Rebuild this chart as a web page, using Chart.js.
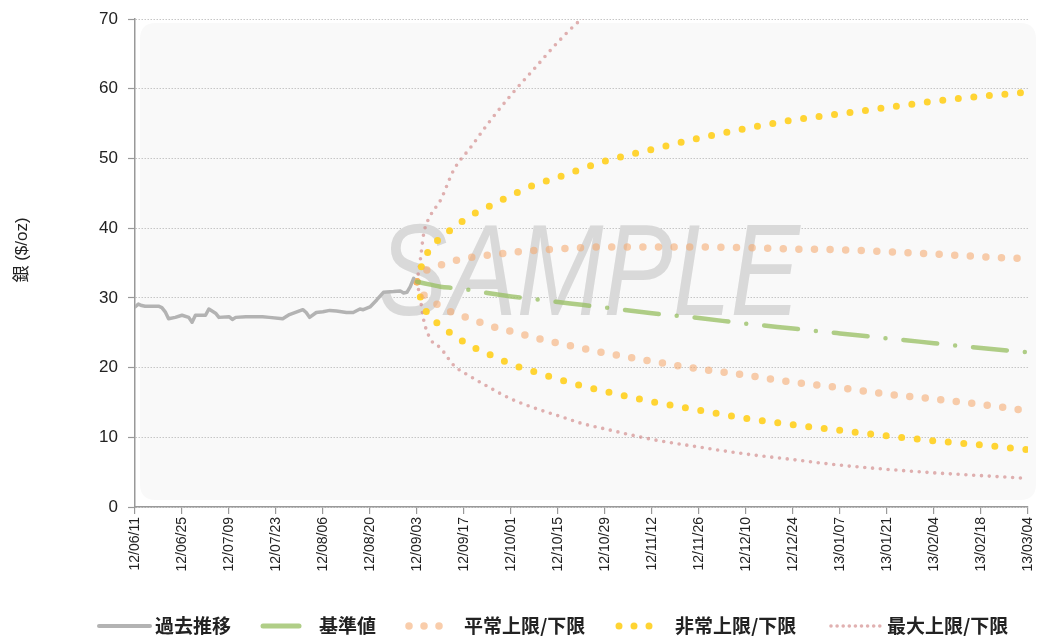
<!DOCTYPE html>
<html>
<head>
<meta charset="utf-8">
<script src="https://cdn.jsdelivr.net/npm/chart.js@4/dist/chart.umd.min.js"></script>
<style>
html,body{margin:0;padding:0;background:#ffffff;}
#wrap{width:1038px;height:636px;position:relative;}
</style>
</head>
<body>
<div id="wrap"><canvas id="c"></canvas></div>
<script>
// ---- tick labels (every 14 days from 12/06/11) ----
const tickLabels = ['12/06/11','12/06/25','12/07/09','12/07/23','12/08/06','12/08/20','12/09/03','12/09/17','12/10/01','12/10/15','12/10/29','12/11/12','12/11/26','12/12/10','12/12/24','13/01/07','13/01/21','13/02/04','13/02/18','13/03/04'];

// ---- history (day offset from 12/06/11, price) ----
const histDays   = [0,1,2,3,7,8,9,10,12,14,16,17,18,21,22,24,25,28,29,30,33,38,40,44,46,50,51,52,54,56,58,60,63,65,67,68,70,72,74,77,79,80,81,82,83];
const histValues = [28.7,29.1,28.9,28.8,28.8,28.6,28.0,27.0,27.2,27.5,27.2,26.5,27.5,27.5,28.4,27.8,27.2,27.3,26.9,27.2,27.3,27.3,27.2,27.0,27.6,28.3,27.9,27.2,27.9,28.0,28.2,28.1,27.9,27.9,28.4,28.3,28.7,29.7,30.8,30.9,31.0,30.7,30.8,31.6,32.8];

// ---- forecast (day offsets) ----
const fcDays        = [84,85,86,88,91,95,100,105,112,119,126,133,140,154,168,182,196,210,224,238,252,266];
const baseValues    = [32.3,32.2,32.1,31.9,31.6,31.4,31.1,30.7,30.2,29.8,29.4,29.0,28.6,27.8,27.1,26.3,25.6,24.9,24.2,23.5,22.8,22.2];
const normalUpper   = [32.3,33.1,33.7,34.2,34.7,35.3,35.8,36.1,36.5,36.8,37.0,37.2,37.3,37.3,37.3,37.2,37.0,36.9,36.6,36.3,35.9,35.6];
const normalLower   = [32.3,30.9,30.4,29.7,28.8,27.8,27.0,26.1,25.2,24.3,23.5,22.8,22.1,20.9,19.8,18.9,17.9,17.1,16.2,15.5,14.7,13.8];
const abnormalUpper = [32.3,34.0,35.4,37.1,38.6,40.1,41.8,43.0,44.7,46.2,47.3,48.5,49.6,51.3,52.9,54.3,55.5,56.4,57.3,58.2,58.9,59.5];
const abnormalLower = [32.3,30.1,28.7,27.3,26.0,24.6,23.1,22.0,20.5,19.4,18.35,17.4,16.6,15.1,13.9,12.7,11.8,11.0,10.2,9.5,8.9,8.2];
const maxUpper      = [32.3,35.5,39.2,41.8,44.0,48.4,51.6,54.9,59.1,62.9,66.7,70.0,72.6,null,null,null,null,null,null,null,null,null];
const maxLower      = [32.3,29.8,26.8,24.1,22.8,20.3,18.7,17.3,15.5,14.2,13.1,12.0,11.2,9.7,8.6,7.6,6.8,6.0,5.4,4.9,4.5,4.1];

const seriesNames = ['過去推移','基準値','平常上限/下限','非常上限/下限','最大上限/下限'];
const yTitle = '銀 ($/oz)';
const watermarkText = 'SAMPLE';

// ---- styles ----
const C_HIST = '#b3b3b3';
const C_BASE = 'rgba(150,190,95,0.75)';
const C_NORM = 'rgba(245,168,110,0.58)';
const C_ABN  = 'rgba(255,210,40,0.95)';
const C_MAX  = 'rgba(205,125,125,0.6)';

function pts(days, vals){ return days.map((d,i)=>({x:d, y:vals[i]})); }

const dotted = (color, w, gap) => ({borderColor:color, borderWidth:w, borderDash:[0,gap], borderCapStyle:'round', pointRadius:0, cubicInterpolationMode:'monotone', fill:false});

const datasets = [
  {label:seriesNames[0], data:pts(histDays,histValues), borderColor:C_HIST, borderWidth:3.5, pointRadius:0, tension:0, borderJoinStyle:'round', borderCapStyle:'round'},
  {label:seriesNames[1], data:pts(fcDays,baseValues), borderColor:C_BASE, borderWidth:4.5, borderDash:[34,18,0,18], borderCapStyle:'round', pointRadius:0, cubicInterpolationMode:'monotone'},
  Object.assign({label:seriesNames[2], data:pts(fcDays,normalUpper)}, dotted(C_NORM,7.5,15.6)),
  Object.assign({label:seriesNames[2]+'_', data:pts(fcDays,normalLower)}, dotted(C_NORM,7.5,15.6)),
  Object.assign({label:seriesNames[3], data:pts(fcDays,abnormalUpper)}, dotted(C_ABN,7,15.6)),
  Object.assign({label:seriesNames[3]+'_', data:pts(fcDays,abnormalLower)}, dotted(C_ABN,7,15.6)),
  Object.assign({label:seriesNames[4], data:pts(fcDays,maxUpper)}, dotted(C_MAX,3.6,7.8)),
  Object.assign({label:seriesNames[4]+'_', data:pts(fcDays,maxLower)}, dotted(C_MAX,3.6,7.8)),
];

// legend layout (sample start/end, text start)
const legendItems = [
  {sx:99,  ex:150, tx:155, dash:[],      w:4,   color:C_HIST},
  {sx:263, ex:299, tx:319, dash:[],      w:5,   color:C_BASE},
  {sx:409, ex:454, tx:464, dash:[0,15],  w:7.5, color:C_NORM},
  {sx:619, ex:664, tx:675, dash:[0,15],  w:7,   color:C_ABN},
  {sx:831, ex:880, tx:887, dash:[0,6.1], w:3.6, color:C_MAX},
];

const decor = {
  id:'decor',
  beforeDraw(chart){
    const {ctx, chartArea:a} = chart;
    ctx.save();
    const x0=a.left+5, y0=a.top+4, x1=a.right+8, y1=a.bottom-7, r=16;
    ctx.fillStyle='#f9f9f9';
    ctx.beginPath();
    ctx.moveTo(x0+r,y0); ctx.lineTo(x1-r,y0); ctx.quadraticCurveTo(x1,y0,x1,y0+r);
    ctx.lineTo(x1,y1-r); ctx.quadraticCurveTo(x1,y1,x1-r,y1);
    ctx.lineTo(x0+r,y1); ctx.quadraticCurveTo(x0,y1,x0,y1-r);
    ctx.lineTo(x0,y0+r); ctx.quadraticCurveTo(x0,y0,x0+r,y0);
    ctx.closePath(); ctx.fill();
    ctx.restore();
  },
  beforeDatasetsDraw(chart){
    const {ctx} = chart;
    ctx.save();
    ctx.translate(589, 315);
    ctx.scale(0.8, 1);
    ctx.font = 'italic 130px "Liberation Sans", sans-serif';
    ctx.fillStyle = '#d9d9d9';
    ctx.textAlign = 'center';
    ctx.textBaseline = 'alphabetic';
    ctx.fillText(watermarkText, 0, 0);
    ctx.restore();
  },
  afterDraw(chart){
    const {ctx} = chart;
    ctx.save();
    // y title
    ctx.translate(22, 250);
    ctx.rotate(-Math.PI/2);
    ctx.font = '17px "Liberation Sans", "Noto Sans CJK JP", sans-serif';
    ctx.fillStyle = '#222';
    ctx.textAlign = 'center';
    ctx.textBaseline = 'middle';
    ctx.fillText(yTitle, 0, 0);
    ctx.restore();
    // legend
    const ly = 626;
    ctx.save();
    legendItems.forEach((it,i)=>{
      ctx.beginPath();
      ctx.strokeStyle = it.color; ctx.lineWidth = it.w; ctx.lineCap='round';
      ctx.setLineDash(it.dash);
      ctx.moveTo(it.sx, ly); ctx.lineTo(it.ex, ly); ctx.stroke();
      ctx.setLineDash([]);
      ctx.font = 'bold 19px "Noto Sans CJK JP", sans-serif';
      ctx.fillStyle = '#222'; ctx.textAlign='left'; ctx.textBaseline='middle';
      ctx.fillText(seriesNames[i], it.tx, ly);
    });
    ctx.restore();
  }
};

new Chart(document.getElementById('c'), {
  type:'line',
  data:{datasets},
  options:{
    responsive:true, maintainAspectRatio:false, animation:false,
    devicePixelRatio:1,
    layout:{padding:{top:19,right:10,bottom:39,left:0}},
    plugins:{legend:{display:false}, tooltip:{enabled:false}},
    elements:{line:{fill:false}},
    scales:{
      x:{type:'linear', min:0, max:266,
         afterFit(s){ s.height = 90; s.paddingRight = 0; s.paddingLeft = 0; },
         ticks:{stepSize:14, autoSkip:false, maxRotation:90, minRotation:90, padding:3, color:'#222',
                font:{family:'"Liberation Sans", sans-serif', size:14},
                callback:(v)=>tickLabels[Math.round(v/14)]},
         grid:{drawOnChartArea:false, drawTicks:true, tickLength:7, tickColor:'#999', lineWidth:1.2},
         border:{color:'#999', width:1.5}
      },
      y:{min:0, max:70,
         afterFit(s){ s.width = 135; s.paddingTop = 0; s.paddingBottom = 0; },
         ticks:{stepSize:10, padding:10, color:'#222',
                font:{family:'"Liberation Sans", sans-serif', size:17}},
         grid:{color:'#c6c6c6', lineWidth:1, tickColor:'#999', tickLength:7, tickBorderDash:[], tickWidth:1.2},
         border:{color:'#999', width:1.5, dash:[1.5,1.5]}
      }
    }
  },
  plugins:[decor]
});
</script>
</body>
</html>
